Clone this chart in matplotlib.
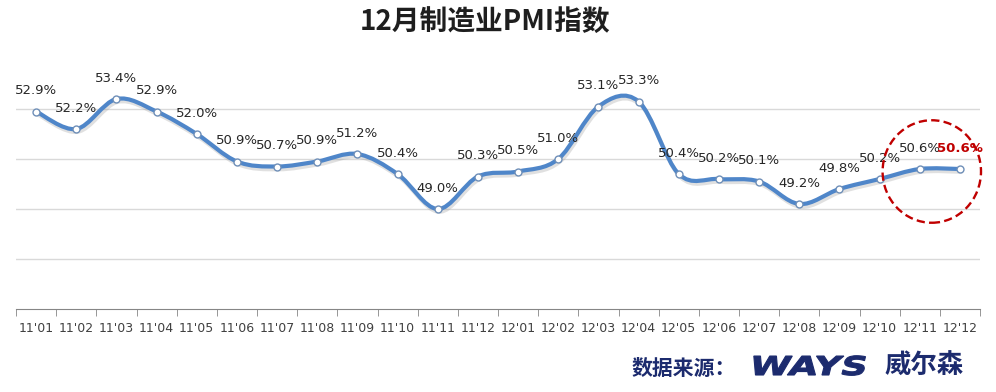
import numpy as np
import matplotlib
matplotlib.use("Agg")
import matplotlib.pyplot as plt
import matplotlib.patheffects as pe
from matplotlib.path import Path
from matplotlib.patches import PathPatch, Ellipse
from matplotlib.textpath import TextPath
from matplotlib.font_manager import FontProperties
from matplotlib.transforms import Affine2D

months = ["11'01", "11'02", "11'03", "11'04", "11'05", "11'06", "11'07", "11'08",
          "11'09", "11'10", "11'11", "11'12", "12'01", "12'02", "12'03", "12'04",
          "12'05", "12'06", "12'07", "12'08", "12'09", "12'10", "12'11", "12'12"]
pmi = [52.9, 52.2, 53.4, 52.9, 52.0, 50.9, 50.7, 50.9, 51.2, 50.4, 49.0, 50.3,
       50.5, 51.0, 53.1, 53.3, 50.4, 50.2, 50.1, 49.2, 49.8, 50.2, 50.6, 50.6]

title = "12月制造业PMI指数"
source = "数据来源："

line_color = "#4F86C9"
navy = "#1C2B6E"
red = "#C00000"

plt.rcParams["font.family"] = ["DejaVu Sans"]

fig = plt.figure(figsize=(9.96, 3.92), dpi=100)
ax = fig.add_axes([16 / 996, 1 - 309 / 392, 964 / 996, 250 / 392])

x = np.arange(len(pmi))
y = np.array(pmi)

# smooth line like excel: bezier through the points
n = len(x)
verts = [(x[0], y[0])]
codes = [Path.MOVETO]
for i in range(n - 1):
    p0 = np.array([x[max(i - 1, 0)], y[max(i - 1, 0)]])
    p1 = np.array([x[i], y[i]])
    p2 = np.array([x[i + 1], y[i + 1]])
    p3 = np.array([x[min(i + 2, n - 1)], y[min(i + 2, n - 1)]])
    c1 = p1 + (p2 - p0) / 6
    c2 = p2 - (p3 - p1) / 6
    verts += [tuple(c1), tuple(c2), tuple(p2)]
    codes += [Path.CURVE4] * 3
curve = PathPatch(Path(verts, codes), facecolor="none", edgecolor=line_color,
                  lw=3, capstyle="round", joinstyle="round", zorder=3)
curve.set_path_effects([pe.Stroke(offset=(1, -2), linewidth=3, foreground="#9a9a9a", alpha=0.3),
                        pe.Normal()])
ax.add_patch(curve)

ax.plot(x, y, ls="none", marker="o", ms=5, mfc="white", mec="#6F8FB8", mew=1, zorder=4)

for i, v in enumerate(pmi):
    last = i == n - 1
    ax.annotate(f"{v:.1f}%", (x[i], v), xytext=(0, 15), textcoords="offset points",
                ha="center", va="center", fontsize=9.5,
                color=red if last else "#262626",
                fontweight="bold" if last else "normal", zorder=5)

# dashed circle round the last two months
ax.add_patch(Ellipse((22.3, 50.5), 2.45, 4.1, fill=False, ec=red, lw=1.7,
                     ls=(0, (3.5, 1.8)), zorder=6, clip_on=False))

ax.set_xlim(-0.5, n - 0.5)
ax.set_ylim(45, 55)
ax.set_yticks([47, 49, 51, 53])
ax.yaxis.grid(True, color="#D9D9D9", lw=1)
ax.tick_params(axis="y", left=False, labelleft=False)
ax.set_xticks(x)
ax.set_xticklabels(months, fontsize=9, color="#404040")
ax.set_xticks(np.arange(-0.5, n, 1), minor=True)
ax.tick_params(axis="x", which="major", length=0, pad=9)
ax.tick_params(axis="x", which="minor", length=5, color="#868686", direction="out")
for s in ["top", "left", "right"]:
    ax.spines[s].set_visible(False)
ax.spines["bottom"].set_color("#868686")
ax.set_axisbelow(True)

fig.text(0.487, 0.944, title, ha="center", va="center", fontsize=20, fontweight="bold",
         color="#1E1E1E", family=["Noto Sans CJK SC", "DejaVu Sans"])

fig.text(632 / 996, 1 - 368 / 392, source, ha="left", va="center", fontsize=15,
         fontweight="bold", color=navy, family=["Noto Sans CJK SC", "DejaVu Sans"])
fig.text(884 / 996, 1 - 366 / 392, "威尔森", ha="left", va="center", fontsize=19,
         fontweight="bold", color=navy, family=["Noto Sans CJK SC", "DejaVu Sans"])

# logo letters, stretched and slanted
logo = TextPath((0, 0), "WAYS", size=26, prop=FontProperties(family="DejaVu Sans", weight="bold"))
tr = Affine2D().scale(1.42, 1.0).skew_deg(14, 0).translate(748, 392 - 375)
fig.add_artist(PathPatch(logo, transform=tr, facecolor=navy, edgecolor=navy, lw=0.8))

fig.savefig("out.png", dpi=100)
